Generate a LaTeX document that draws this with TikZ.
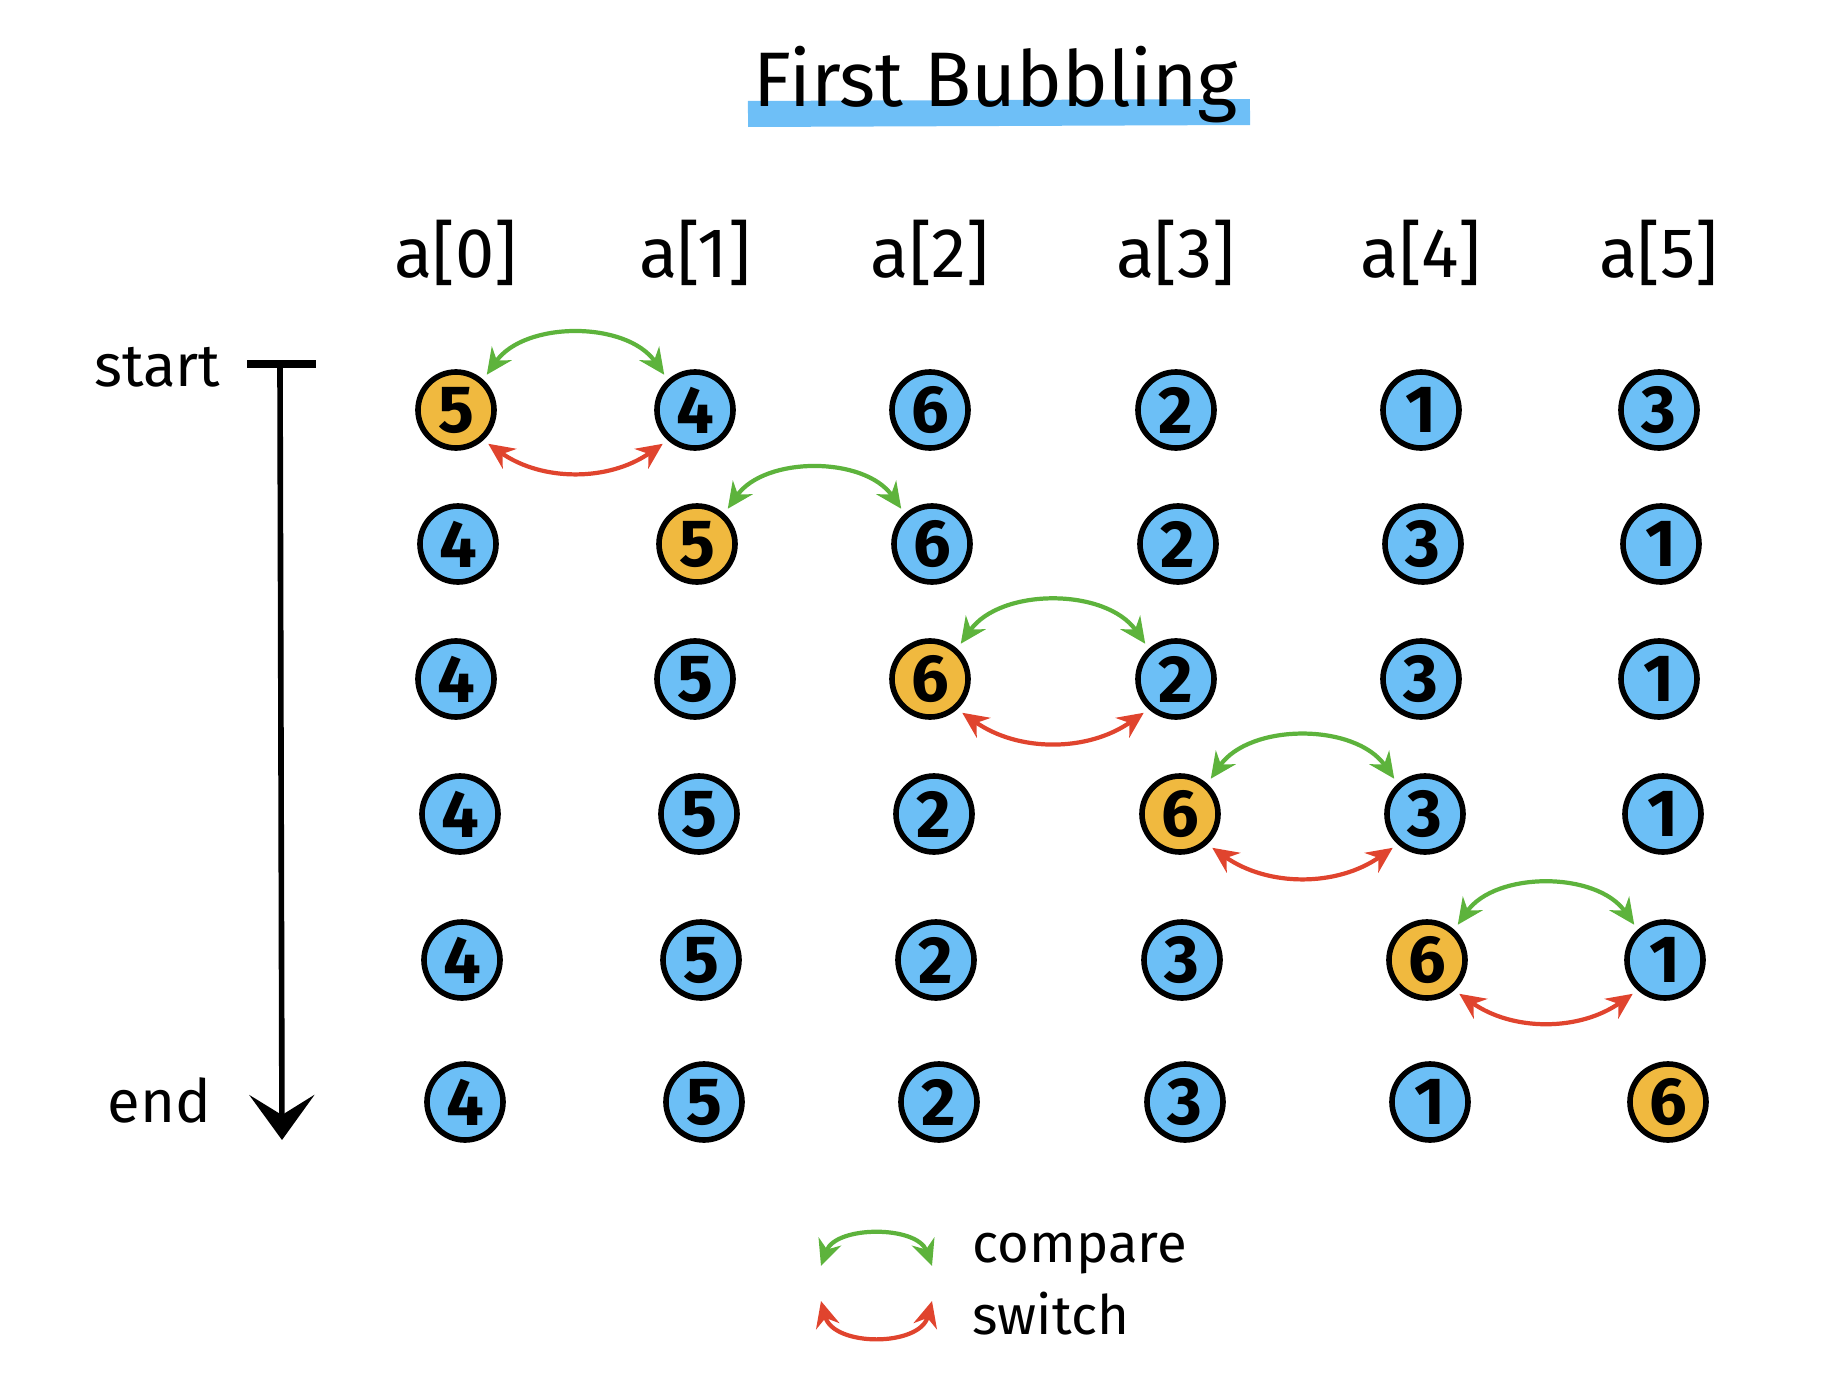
\documentclass[tikz,border=0pt]{standalone}
\usepackage{fontspec}
\setmainfont{Fira Sans}
\usepackage{tikz}
\usetikzlibrary{positioning,arrows.meta}

\definecolor{ballblue}{HTML}{6CBFF6}
\definecolor{ballgold}{HTML}{F0B93F}
\definecolor{cmpgreen}{HTML}{5DB33C}
\definecolor{swpred}{HTML}{E0442E}
\definecolor{brushblue}{HTML}{6EBFF7}

\begin{document}
\begin{tikzpicture}[
    font=\fontsize{17}{20}\selectfont,
    ball/.style={circle, draw=black, line width=1.6pt, minimum size=7.6mm, inner sep=0pt,
                 font=\fontsize{19}{21}\selectfont\bfseries},
    cold/.style={ball, fill=ballblue},
    hot/.style={ball, fill=ballgold},
    hdr/.style={font=\fontsize{20}{22}\selectfont, anchor=base},
    lbl/.style={anchor=base east, inner sep=0pt},
    key/.style={anchor=base west, inner sep=0pt, font=\fontsize{15.5}{18}\selectfont},
    cmp/.style={draw=cmpgreen, line width=1.2pt,
                {Stealth[length=2.6mm,width=2.4mm]}-{Stealth[length=2.6mm,width=2.4mm]},
                shorten <=0.6mm, shorten >=0.6mm},
    swp/.style={cmp, draw=swpred},
    brush/.style={draw=brushblue, line width=2.6mm},
  ]
    \useasboundingbox (0,0) rectangle (18.46,-14.00);
    \def\colx{{4.56,6.95,9.30,11.76,14.21,16.59}}

    % ---------- title ----------
    \coordinate (brA) at (7.48,-1.14);
    \coordinate (brB) at (12.50,-1.12);
    \draw[brush] (brA) -- (brB);
    \node[anchor=base, font=\fontsize{22}{24}\selectfont] (title) at (9.96,-1.06) {First Bubbling};

    % ---------- array rows ----------
    \foreach \r/\dx/\y/\vals in {1/0/4.10/{5,4,6,2,1,3},
                                  2/0.02/5.44/{4,5,6,2,3,1},
                                  3/0/6.79/{4,5,6,2,3,1},
                                  4/0.04/8.14/{4,5,2,6,3,1},
                                  5/0.06/9.60/{4,5,2,3,6,1},
                                  6/0.09/11.02/{4,5,2,3,1,6}} {
      \pgfmathtruncatemacro\hotc{\r-1}
      \foreach \v [count=\c from 0] in \vals {
        \pgfmathsetmacro\x{\colx[\c]+\dx}
        \def\sty{cold}\ifnum\c=\hotc\def\sty{hot}\fi
        \node[\sty] (v\r-\c) at (\x,-\y) {\v};
      }
    }
    \foreach \c in {0,...,5}
      \path (v1-\c.center) ++(0,1.33) node[hdr] (h\c) {a[\c]};

    % ---------- compare / switch ----------
    \foreach \r in {1,...,5} {
      \pgfmathtruncatemacro\a{\r-1}
      \draw[cmp] (v\r-\a.48) to[bend left=55] (v\r-\r.132);
    }
    \foreach \r in {1,3,4,5} {
      \pgfmathtruncatemacro\a{\r-1}
      \draw[swp] (v\r-\a.-48) to[bend right=35] (v\r-\r.-132);
    }

    % ---------- time axis ----------
    \coordinate (barL) at (2.47,-3.64);
    \coordinate (barR) at (3.16,-3.64);
    \coordinate (t0) at (2.80,-3.64);
    \coordinate (t1) at (2.82,-11.40);
    \draw[line width=2.2pt] (barL) -- (barR);
    \draw[line width=1.6pt, -{Stealth[length=4.5mm,width=6.5mm,inset=2mm]}] (t0) -- (t1);
    \node[lbl] (start) at (2.21,-3.86) {start};
    \node[lbl] (end) at (2.12,-11.22) {end};

    % ---------- legend ----------
    \coordinate (gL) at (8.21,-12.66);
    \coordinate (gR) at (9.32,-12.66);
    \coordinate (rL) at (8.21,-13.01);
    \coordinate (rR) at (9.32,-13.01);
    \draw[cmp, shorten <=0pt, shorten >=0pt] (gL) to[bend left=70, looseness=1.0] (gR);
    \draw[swp, shorten <=0pt, shorten >=0pt] (rL) to[bend right=75, looseness=1.1] (rR);
    \node[key] (lcmp) at (9.72,-12.62) {compare};
    \node[key] (lswp) at (9.72,-13.34) {switch};
\end{tikzpicture}
\end{document}
